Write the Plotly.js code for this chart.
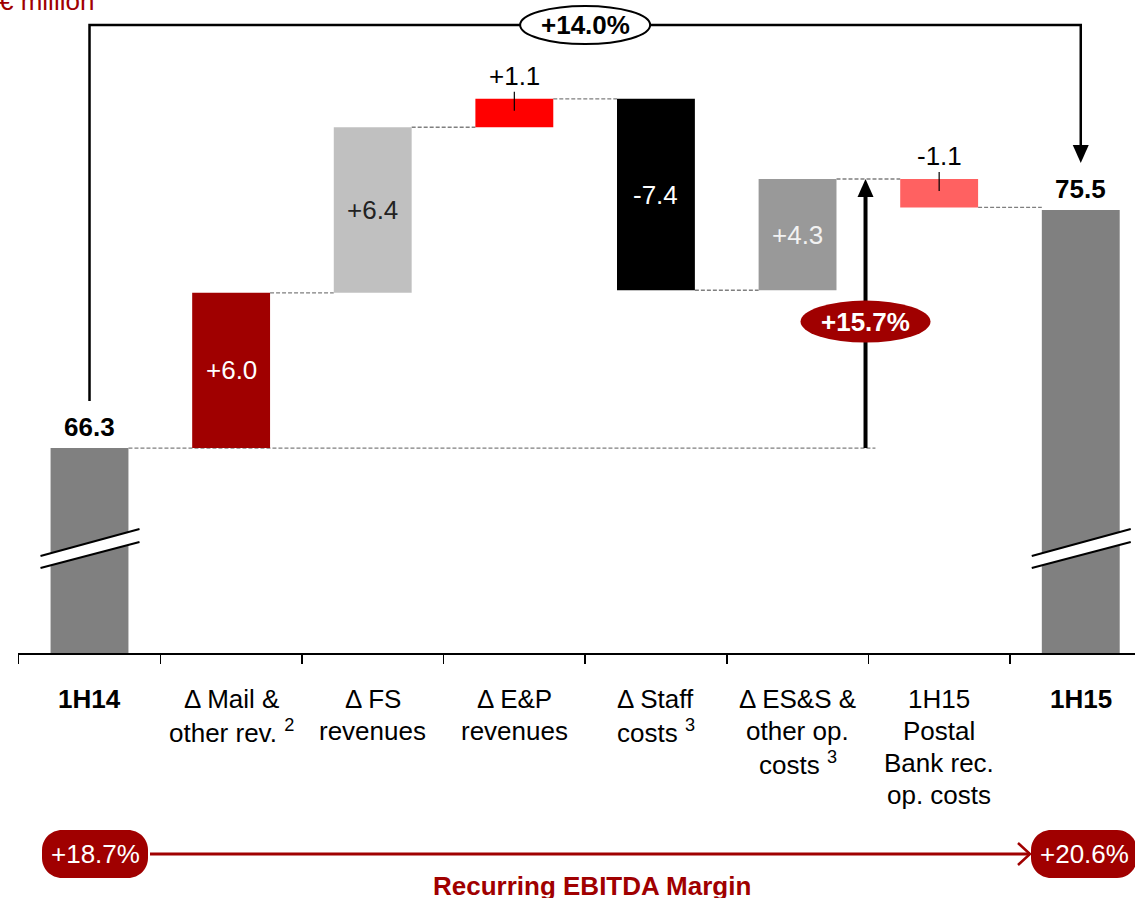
<!DOCTYPE html>
<html>
<head>
<meta charset="utf-8">
<script src="https://cdn.plot.ly/plotly-3.0.1.min.js"></script>
<style>
html,body{margin:0;padding:0;overflow:hidden;background:#fff}
#chart{width:1135px;height:898px}
</style>
</head>
<body>
<div id="chart"></div>
<script>
// ---------------- data ----------------
const categories = ['1H14', 'Δ Mail &<br>other rev. <sup>2</sup>', 'Δ FS<br>revenues', 'Δ E&P<br>revenues',
  'Δ Staff<br>costs <sup>3</sup>', 'Δ ES&S &<br>other op.<br>costs <sup>3</sup>', '1H15<br>Postal<br>Bank rec.<br>op. costs', '1H15'];
const measures = ['total', 'relative', 'relative', 'relative', 'relative', 'relative', 'relative', 'total'];
const values = [66.3, 6.0, 6.4, 1.1, -7.4, 4.3, -1.1, 75.5];
const barColors = ['#808080', '#a00000', '#c0c0c0', '#ff0000', '#000000', '#999999', '#ff6161', '#808080'];
const labelColors = ['#000000', '#ffffff', '#222222', '#000000', '#ffffff', '#f2f2f2', '#000000', '#000000'];
const unitLabel = '€ million';
const totalGrowth = '+14.0%';
const organicGrowth = '+15.7%';
const marginStart = '+18.7%';
const marginEnd = '+20.6%';
const marginTitle = 'Recurring EBITDA Margin';

// ---------------- layout constants ----------------
const FONT = 'Liberation Sans, Arial, sans-serif';
const DARKRED = '#a00000';
const W = 1135, H = 898, ML = 18, MR = 0, MT = 0, MB = 245;
const plotW = W - ML - MR, plotH = H - MT - MB;
const yRange = [58.376, 83.62];
const xRange = [-0.505, 7.383];
const ppu = plotH / (yRange[1] - yRange[0]);
const pxX = px => (px - ML) / plotW;
const pxY = py => (H - MB - py) / plotH;
const BW = 0.55, HW = BW / 2;

// ---------------- waterfall geometry ----------------
const bases = [], heights = [], ends = [];
let running = 0;
values.forEach((v, i) => {
  if (measures[i] === 'total') { bases.push(0); heights.push(v); running = v; }
  else { bases.push(running); heights.push(v); running += v; }
  ends.push(running);
});
const xs = categories.map((_, i) => i);

const shapes = [];
const annotations = [];

// connectors
const arrowX = 5.48;
for (let i = 0; i < xs.length - 1; i++) {
  const x1 = (i === 0) ? arrowX + 0.07 : i + 1 - HW;
  shapes.push({type: 'line', xref: 'x', yref: 'y', x0: i + HW, x1: x1, y0: ends[i], y1: ends[i],
    line: {color: '#7f7f7f', width: 1.3, dash: '4px,2px'}, layer: 'below'});
}

// value labels
values.forEach((v, i) => {
  const isTotal = measures[i] === 'total';
  const txt = isTotal ? v.toFixed(1) : (v > 0 ? '+' : '') + v.toFixed(1);
  const top = Math.max(bases[i], bases[i] + heights[i]);
  if (isTotal) {
    annotations.push({xref: 'x', yref: 'y', x: i, y: v, yshift: 21, xanchor: 'center', yanchor: 'middle', showarrow: false,
      text: '<b>' + txt + '</b>', font: {family: FONT, size: 26, color: labelColors[i]}});
  } else if (Math.abs(v) < 2) {
    annotations.push({xref: 'x', yref: 'y', x: i, y: top, yshift: 23, xanchor: 'center', yanchor: 'middle', showarrow: false,
      text: txt, font: {family: FONT, size: 26, color: labelColors[i]}});
    shapes.push({type: 'line', xref: 'x', yref: 'y', ysizemode: 'pixel', yanchor: top, x0: i, x1: i, y0: 7, y1: -12,
      line: {color: '#000', width: 1.2}});
  } else {
    annotations.push({xref: 'x', yref: 'y', x: i, y: bases[i] + heights[i] / 2, xanchor: 'center', yanchor: 'middle', showarrow: false,
      text: txt, font: {family: FONT, size: 26, color: labelColors[i]}});
  }
});

// category labels
categories.forEach((lab, i) => {
  const bold = measures[i] === 'total';
  lab.split('<br>').forEach((line, k) => {
    annotations.push({xref: 'x', yref: 'paper', x: i, y: pxY(699 + k * 32), yanchor: 'middle', xanchor: 'center',
      showarrow: false, text: bold ? '<b>' + line + '</b>' : line, font: {family: FONT, size: 26, color: '#000'}});
  });
});

// axis breaks on total bars
const breakY = yRange[0] + (653 - 549) / ppu;
xs.forEach(i => {
  if (measures[i] !== 'total') return;
  shapes.push({type: 'path', xref: 'x', yref: 'y', xsizemode: 'pixel', ysizemode: 'pixel', xanchor: i, yanchor: breakY,
    path: 'M-49,-7 L50,20 L50,7 L-49,-19 Z', fillcolor: '#ffffff', line: {width: 0}});
  shapes.push({type: 'path', xref: 'x', yref: 'y', xsizemode: 'pixel', ysizemode: 'pixel', xanchor: i, yanchor: breakY,
    path: 'M-49,-7 L50,20', line: {color: '#000', width: 2}});
  shapes.push({type: 'path', xref: 'x', yref: 'y', xsizemode: 'pixel', ysizemode: 'pixel', xanchor: i, yanchor: breakY,
    path: 'M-49,-19 L50,7', line: {color: '#000', width: 2}});
});

// top bracket with total growth
const first = 0, last = xs.length - 1;
const yTop = yRange[1] - 25 / ppu;
const leftBottom = ends[first] + 47 / ppu;
const rightTip = ends[last] + 47 / ppu;
shapes.push({type: 'path', xref: 'x', yref: 'y',
  path: `M${first},${leftBottom} L${first},${yTop} L${last},${yTop} L${last},${rightTip + 12 / ppu}`,
  line: {color: '#000', width: 2.5}});
shapes.push({type: 'path', xref: 'x', yref: 'y', xsizemode: 'pixel', ysizemode: 'pixel', xanchor: last, yanchor: rightTip,
  path: 'M0,0 L-8,18 L8,18 Z', fillcolor: '#000', line: {width: 0}});
const midX = (first + last) / 2;
shapes.push({type: 'circle', xref: 'x', yref: 'y', xsizemode: 'pixel', ysizemode: 'pixel', xanchor: midX, yanchor: yTop,
  x0: -65, x1: 65, y0: -19, y1: 19, fillcolor: '#ffffff', line: {color: '#000', width: 2}});
annotations.push({xref: 'x', yref: 'y', x: midX, y: yTop, xanchor: 'center', yanchor: 'middle', showarrow: false,
  text: '<b>' + totalGrowth + '</b>', font: {family: FONT, size: 26, color: '#000'}});

// organic growth arrow
const orgTop = ends[5];
shapes.push({type: 'line', xref: 'x', yref: 'y', x0: arrowX, x1: arrowX, y0: ends[0], y1: orgTop - 10 / ppu,
  line: {color: '#000', width: 4}});
shapes.push({type: 'path', xref: 'x', yref: 'y', xsizemode: 'pixel', ysizemode: 'pixel', xanchor: arrowX, yanchor: orgTop,
  path: 'M0,0 L-8,-18 L8,-18 Z', fillcolor: '#000', line: {width: 0}});
const orgMid = ends[0] + (orgTop - ends[0]) * 0.47;
shapes.push({type: 'circle', xref: 'x', yref: 'y', xsizemode: 'pixel', ysizemode: 'pixel', xanchor: arrowX, yanchor: orgMid,
  x0: -65, x1: 65, y0: -21, y1: 21, fillcolor: DARKRED, line: {width: 0}});
annotations.push({xref: 'x', yref: 'y', x: arrowX, y: orgMid, xanchor: 'center', yanchor: 'middle', showarrow: false,
  text: '<b>' + organicGrowth + '</b>', font: {family: FONT, size: 26, color: '#fff'}});

// bottom margin band
function pillPath(x0, y0, x1, y1, r) {
  const k = 0.5523 * r;
  const P = (x, y) => pxX(x) + ',' + pxY(y);
  return 'M' + P(x0 + r, y0) + ' L' + P(x1 - r, y0) +
    ' C' + P(x1 - r + k, y0) + ' ' + P(x1, y0 + r - k) + ' ' + P(x1, y0 + r) +
    ' L' + P(x1, y1 - r) +
    ' C' + P(x1, y1 - r + k) + ' ' + P(x1 - r + k, y1) + ' ' + P(x1 - r, y1) +
    ' L' + P(x0 + r, y1) +
    ' C' + P(x0 + r - k, y1) + ' ' + P(x0, y1 - r + k) + ' ' + P(x0, y1 - r) +
    ' L' + P(x0, y0 + r) +
    ' C' + P(x0, y0 + r - k) + ' ' + P(x0 + r - k, y0) + ' ' + P(x0 + r, y0) + ' Z';
}
shapes.push({type: 'line', xref: 'paper', yref: 'paper', x0: pxX(150), x1: pxX(1030), y0: pxY(854), y1: pxY(854),
  line: {color: DARKRED, width: 3}});
shapes.push({type: 'path', xref: 'paper', yref: 'paper',
  path: 'M' + pxX(1018) + ',' + pxY(843) + ' L' + pxX(1030) + ',' + pxY(854) + ' L' + pxX(1018) + ',' + pxY(865),
  line: {color: DARKRED, width: 2.5}});
shapes.push({type: 'path', xref: 'paper', yref: 'paper', path: pillPath(42, 830, 148, 878, 20), fillcolor: DARKRED, line: {width: 0}});
shapes.push({type: 'path', xref: 'paper', yref: 'paper', path: pillPath(1031, 830, 1137, 878, 20), fillcolor: DARKRED, line: {width: 0}});
annotations.push({xref: 'paper', yref: 'paper', x: pxX(95), y: pxY(854), xanchor: 'center', yanchor: 'middle', showarrow: false,
  text: marginStart, font: {family: FONT, size: 26, color: '#fff'}});
annotations.push({xref: 'paper', yref: 'paper', x: pxX(1084), y: pxY(854), xanchor: 'center', yanchor: 'middle', showarrow: false,
  text: marginEnd, font: {family: FONT, size: 26, color: '#fff'}});
annotations.push({xref: 'paper', yref: 'paper', x: pxX(592), y: pxY(886), xanchor: 'center', yanchor: 'middle', showarrow: false,
  text: '<b>' + marginTitle + '</b>', font: {family: FONT, size: 26, color: DARKRED}});

// unit label
annotations.push({xref: 'paper', yref: 'paper', x: pxX(-3), y: pxY(18), xanchor: 'left', yanchor: 'bottom', showarrow: false,
  text: unitLabel, font: {family: FONT, size: 26, color: DARKRED}});

// ---------------- traces ----------------
const traces = [{
  type: 'bar', x: xs, y: heights, base: bases, width: BW,
  marker: {color: barColors, line: {width: 0}},
  hoverinfo: 'skip', showlegend: false
}];

const layout = {
  width: W, height: H, autosize: false,
  margin: {l: ML, r: MR, t: MT, b: MB, pad: 0},
  paper_bgcolor: '#fff', plot_bgcolor: '#fff',
  showlegend: false,
  xaxis: {range: xRange, showline: true, linecolor: '#000', linewidth: 2, ticks: 'outside',
    tickvals: [-0.5, 0.5, 1.5, 2.5, 3.5, 4.5, 5.5, 6.5], ticklen: 9, tickwidth: 1.5, tickcolor: '#000',
    showticklabels: false, showgrid: false, zeroline: false, fixedrange: true},
  yaxis: {range: yRange, visible: false, showgrid: false, zeroline: false, fixedrange: true},
  shapes: shapes,
  annotations: annotations,
  font: {family: FONT}
};

Plotly.newPlot('chart', traces, layout, {displayModeBar: false, staticPlot: true});
</script>
</body>
</html>
